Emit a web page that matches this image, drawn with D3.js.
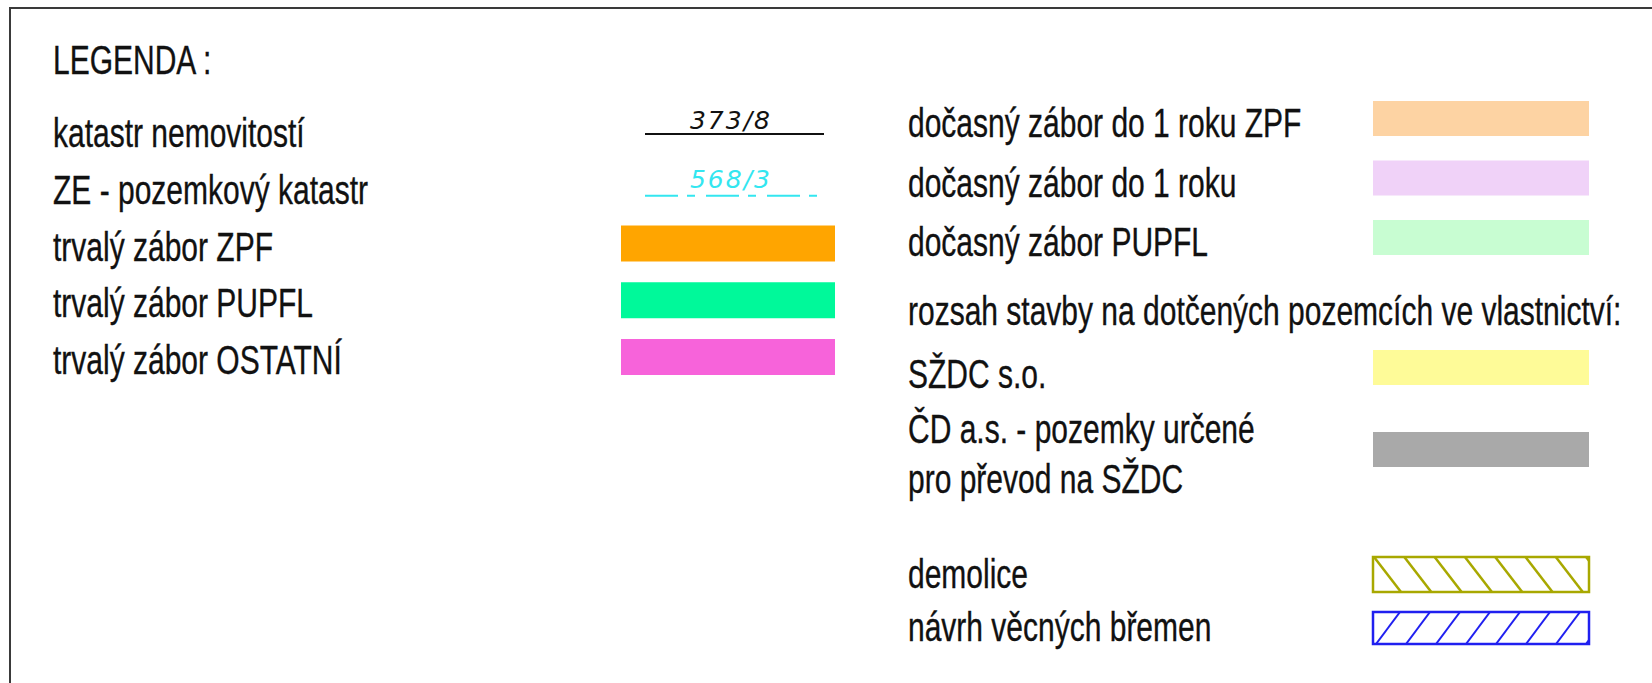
<!DOCTYPE html>
<html>
<head>
<meta charset="utf-8">
<script src="https://cdn.jsdelivr.net/npm/d3@7"></script>
<style>
  body { margin: 0; background: #fff; }
  svg text { font-family: "Liberation Sans", Arial, sans-serif; fill: #111; }
</style>
</head>
<body>
<div id="chart"></div>
<script>
// legend content
let title = "LEGENDA :";

let lineLabels = ["katastr nemovitostí", "ZE - pozemkový katastr"];
let lineNumbers = ["373/8", "568/3"];
let lineColors = ["#111111", "#33e6f0"];

let permLabels = ["trvalý zábor ZPF", "trvalý zábor PUPFL", "trvalý zábor OSTATNÍ"];
let permColors = ["#ffa500", "#00f99a", "#f763da"];

let tempLabels = ["dočasný zábor do 1 roku ZPF", "dočasný zábor do 1 roku", "dočasný zábor PUPFL"];
let tempColors = ["#fdd3a3", "#f0d2f8", "#c8fdd2"];

let ownerHeading = "rozsah stavby na dotčených pozemcích ve vlastnictví:";
let ownerLabels = [["SŽDC s.o."], ["ČD a.s. - pozemky určené", "pro převod na SŽDC"]];
let ownerColors = ["#fefb98", "#a9a9a9"];

let hatchLabels = ["demolice", "návrh věcných břemen"];
let hatchColors = ["#a8a800", "#2020f0"];
let hatchDirs = ["\\", "/"];

//-------------------------------------------------------
const W = 1652, H = 683;
const fs = 40, sx = 0.75;   // font size + horizontal squeeze (narrow font look)

let svg = d3.select("#chart").append("svg").attr("width", W).attr("height", H);

// frame (only top & left edges visible)
svg.append("path")
    .attr("d", `M10,${H + 5} L10,8 L${W + 5},8`)
    .attr("fill", "none").attr("stroke", "#3a3a3a").attr("stroke-width", 2);

let label = (x, y, t) => svg.append("text")
    .attr("transform", `translate(${x},${y}) scale(${sx},1)`)
    .style("font-size", fs + "px")
    .style("stroke", "#111").style("stroke-width", 0.35)
    .text(t);

label(53, 74, title);

// left column rows
let leftRows = lineLabels.concat(permLabels);
let yLeft = d3.scalePoint().domain(leftRows).range([147, 374]);
let swL = { x: 621, w: 214, h: 36 };

leftRows.forEach(d => label(53, yLeft(d), d));

// cadastral line symbols
lineLabels.forEach((d, i) => {
    let y = yLeft(d) - (i ? 8 : 13);
    svg.append("line")
        .attr("x1", 645).attr("x2", i ? 818 : 824)
        .attr("y1", y).attr("y2", y)
        .attr("stroke", lineColors[i]).attr("stroke-width", 2)
        .attr("stroke-dasharray", i ? "33,9,8,11" : null);
    svg.append("text")
        .attr("x", 731).attr("y", y - (i ? 8 : 5))
        .attr("text-anchor", "middle")
        .style("font-family", "'DejaVu Sans', sans-serif")
        .style("font-style", "italic").style("font-weight", 300)
        .style("font-size", "25px").style("letter-spacing", "2px")
        .style("fill", lineColors[i])
        .text(lineNumbers[i]);
});

svg.selectAll("rect.perm").data(permLabels).join("rect")
    .attr("class", "perm")
    .attr("x", swL.x).attr("width", swL.w).attr("height", swL.h)
    .attr("y", d => yLeft(d) - swL.h + 1)
    .attr("fill", (d, i) => permColors[i]);

// right column
let xR = 908;
let swR = { x: 1373, w: 216, h: 35 };

let yTemp = d3.scalePoint().domain(tempLabels).range([137, 256]);
tempLabels.forEach(d => label(xR, yTemp(d), d));
svg.selectAll("rect.temp").data(tempLabels).join("rect")
    .attr("class", "temp")
    .attr("x", swR.x).attr("width", swR.w).attr("height", swR.h)
    .attr("y", d => yTemp(d) - swR.h - 1)
    .attr("fill", (d, i) => tempColors[i]);

label(xR, 325, ownerHeading);

let yOwner = d3.scalePoint().domain(ownerLabels.map(d => d[0])).range([388, 443]);
ownerLabels.forEach((lines, i) => {
    let y0 = yOwner(lines[0]);
    lines.forEach((t, k) => label(xR, y0 + k * 50, t));
    svg.append("rect")
        .attr("x", swR.x).attr("width", swR.w).attr("height", swR.h)
        .attr("y", i ? y0 - 11 : y0 - 38)
        .attr("fill", ownerColors[i]);
});

let yHatch = d3.scalePoint().domain(hatchLabels).range([588, 641]);
hatchLabels.forEach((d, i) => {
    label(xR, yHatch(d), d);
    let top = yHatch(d) - (i ? 29 : 31), h = i ? 32 : 35;
    let col = hatchColors[i];
    let cid = "clip" + i;
    svg.append("clipPath").attr("id", cid)
        .append("rect").attr("x", swR.x).attr("y", top).attr("width", swR.w).attr("height", h);
    let step = i ? 30 : 30.3, dx = i ? 24 : 27, x0 = i ? swR.x + 3 : swR.x + 1;
    let g = svg.append("g").attr("clip-path", `url(#${cid})`);
    d3.range(-1, 9).forEach(k => {
        let xa = x0 + k * step;
        g.append("line")
            .attr("x1", xa).attr("y1", hatchDirs[i] === "\\" ? top : top + h)
            .attr("x2", xa + dx).attr("y2", hatchDirs[i] === "\\" ? top + h : top)
            .attr("stroke", col).attr("stroke-width", i ? 2 : 2.5);
    });
    svg.append("rect")
        .attr("x", swR.x).attr("y", top).attr("width", swR.w).attr("height", h)
        .attr("fill", "none").attr("stroke", col).attr("stroke-width", 2.5);
});
</script>
</body>
</html>
